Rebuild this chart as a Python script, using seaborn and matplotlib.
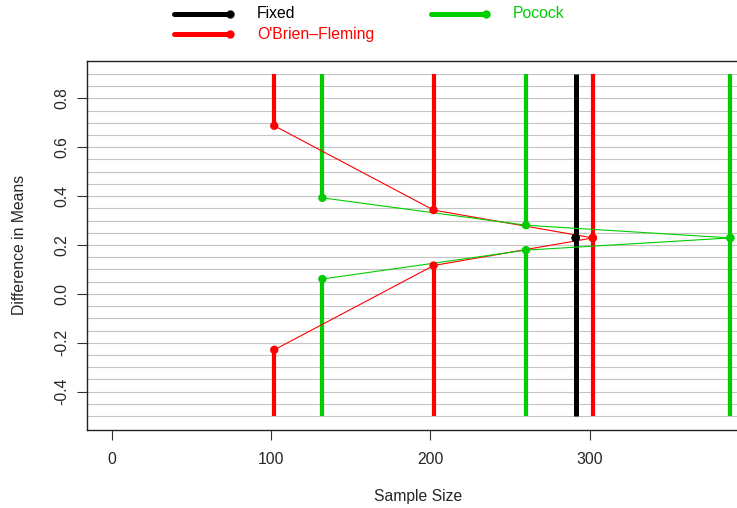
import numpy as np
import pandas as pd
import matplotlib
matplotlib.use("Agg")
import matplotlib.pyplot as plt
import seaborn as sns
from matplotlib.lines import Line2D

# ---- data ----
designs = ["Fixed", "O'Brien\u2013Fleming", "Pocock"]
colors = {"Fixed": "#000000", "O'Brien\u2013Fleming": "#FF0000", "Pocock": "#00CD00"}

fixed_n = [291.2]
fixed_bound = [0.229]

obf_n = [102.0, 202.0, 302.0]
obf_upper = [0.688, 0.343, 0.229]
obf_lower = [-0.229, 0.116, 0.229]

poc_n = [132.2, 260.0, 388.3]
poc_upper = [0.393, 0.281, 0.229]
poc_lower = [0.061, 0.179, 0.229]

bar_low, bar_high = -0.5, 0.9
x_ticks = [0, 100, 200, 300]
y_ticks = [-0.4, -0.2, 0.0, 0.2, 0.4, 0.6, 0.8]

rows = []
for d, ns, up, lo in [(designs[1], obf_n, obf_upper, obf_lower),
                      (designs[2], poc_n, poc_upper, poc_lower),
                      (designs[0], fixed_n, fixed_bound, fixed_bound)]:
    for n, u, l in zip(ns, up, lo):
        rows.append(dict(design=d, n=n, bound="upper", value=u))
        rows.append(dict(design=d, n=n, bound="lower", value=l))
df = pd.DataFrame(rows)

# ---- figure ----
sns.set_style("white")
plt.rcParams["font.family"] = ["Liberation Sans", "DejaVu Sans"]
W, H = 737, 508
fig = plt.figure(figsize=(W / 100, H / 100), dpi=100)

xlim = (-15.3, 420)
px_per_unit = 1.593
left = 87.4 / W
width = (xlim[1] - xlim[0]) * px_per_unit / W
bottom = (H - 430) / H
top = (H - 61) / H
ax = fig.add_axes([left, bottom, width, top - bottom])
ax.set_facecolor("white")

# horizontal grid lines
for yv in np.arange(bar_low, bar_high + 1e-9, 0.05):
    ax.axhline(yv, color="#c4c4c4", lw=0.8, zorder=0)

# rejection-region bars at each analysis (above upper, below lower bound)
for _, r in df.iterrows():
    lw = 3.6 if r["design"] == designs[0] else 3.0
    if r["bound"] == "upper":
        ax.vlines(r["n"], r["value"], bar_high, color=colors[r["design"]], lw=lw, zorder=2)
    else:
        ax.vlines(r["n"], bar_low, r["value"], color=colors[r["design"]], lw=lw, zorder=2)

# boundary lines
for (d, b), sub in df.groupby(["design", "bound"]):
    if d == designs[0]:
        continue
    sns.lineplot(data=sub, x="n", y="value", color=colors[d], lw=0.8,
                 ax=ax, zorder=3, legend=False, sort=True, estimator=None)
sns.scatterplot(data=df, x="n", y="value", hue="design", palette=colors,
                s=36, edgecolor="none", ax=ax, zorder=4, legend=False)

ax.set_xlim(*xlim)
ax.set_ylim(-0.557, 0.953)
ax.set_xticks(x_ticks)
ax.set_yticks(y_ticks)
ax.set_xticklabels([str(t) for t in x_ticks], fontsize=11.3)
ax.set_yticklabels([f"{t:.1f}" for t in y_ticks], fontsize=11.3, rotation=90, va="center")
ax.tick_params(axis="both", direction="out", length=7, width=0.8, color="#333333",
               bottom=True, left=True)
ax.tick_params(axis="x", pad=9)
ax.tick_params(axis="y", pad=6)
for s in ["left", "top", "bottom"]:
    ax.spines[s].set_color("#222222")
    ax.spines[s].set_linewidth(1.0)
ax.spines["right"].set_visible(False)
ax.set_xlabel("")
ax.set_ylabel("")

fig.text(418 / W, 1 - 497 / H, "Sample Size", ha="center", va="center", fontsize=11.3)
fig.text(20 / W, 1 - 245 / H, "Difference in Means", ha="center", va="center",
         rotation=90, fontsize=11.3)

# ---- legend (top) ----
legend_items = [
    (designs[0], 174, 230, 14, 257, "#000000"),
    (designs[1], 174, 230, 34, 257, colors[designs[1]]),
    (designs[2], 431, 486, 14, 513, colors[designs[2]]),
]
for label, x0, x1, yy, xt, c in legend_items:
    lc = colors[label]
    fig.add_artist(Line2D([x0 / W, x1 / W], [1 - yy / H, 1 - yy / H], color=lc,
                          lw=3.6, solid_capstyle="round", transform=fig.transFigure))
    fig.add_artist(Line2D([x1 / W], [1 - yy / H], color=lc, marker="o", ms=6,
                          mec="none", transform=fig.transFigure))
    fig.text(xt / W, 1 - yy / H, label, ha="left", va="center", fontsize=11.3, color=c)

fig.savefig("out.png", dpi=100)
